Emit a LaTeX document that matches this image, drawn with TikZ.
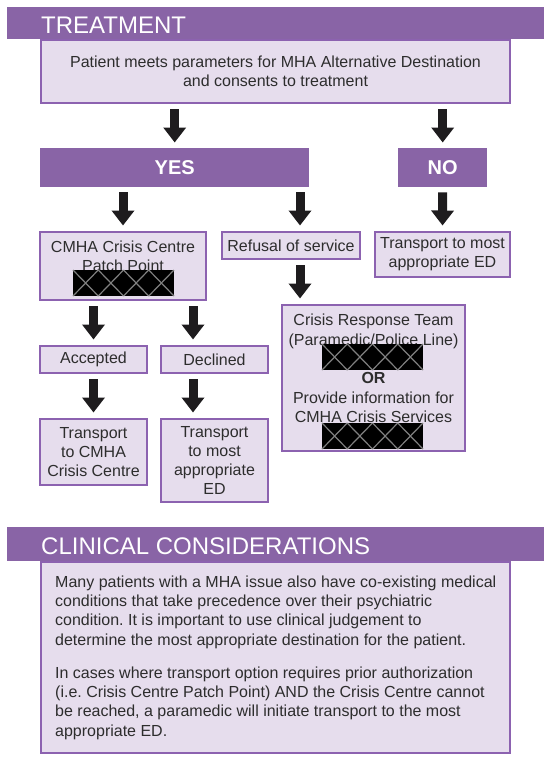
\documentclass[tikz,border=0pt]{standalone}
\usepackage{fontspec}
\setmainfont{Liberation Sans}
\usetikzlibrary{arrows.meta}
\definecolor{bandpurple}{RGB}{137,100,166}
\definecolor{cardfill}{RGB}{230,221,237}
\definecolor{cardline}{RGB}{140,98,176}
\definecolor{ink}{RGB}{45,45,45}
\definecolor{arrowink}{RGB}{30,28,30}
\newcommand{\cardfont}{\fontsize{16}{19.3}\selectfont\frenchspacing}

\begin{document}
\begin{tikzpicture}[x=1pt, y=-1pt,
    card/.style={draw=cardline, fill=cardfill, line width=2pt, anchor=north west, inner sep=0pt, align=center, text=ink, font=\cardfont},
    band/.style={fill=bandpurple, anchor=north west, inner sep=0pt},
    choice/.style={fill=bandpurple, anchor=north west, inner sep=0pt, text=white, font=\fontsize{20}{24}\selectfont\bfseries},
    heading/.style={text=white, anchor=base west, inner sep=0pt, font=\fontsize{24}{28}\selectfont},
    downarrow/.style={draw=arrowink, line width=9pt, -{Triangle[width=22pt,length=15pt]}, shorten <=5pt, shorten >=5.5pt}]
  \useasboundingbox (0,0) rectangle (550,763);

  \node[card, minimum width=469pt, minimum height=63pt] (top) at (40,39) {Patient meets parameters for MHA Alternative Destination\\and consents to treatment};
  \node[band, minimum width=537pt, minimum height=32pt] (treatband) at (7,7) {};
  \node[heading] (treattitle) at (41,33) {TREATMENT};

  \node[choice, minimum width=269pt, minimum height=39pt] (yes) at (40,148) {YES};
  \node[choice, minimum width=89pt, minimum height=39pt] (no) at (398,148) {NO};

  \node[card, minimum width=166pt, minimum height=68pt] (cmha) at (39,231) {CMHA Crisis Centre\\Patch Point\\\vphantom{X}};
  \node[card, minimum width=138pt, minimum height=27pt] (refusal) at (221,231) {Refusal of service};
  \node[card, minimum width=135pt, minimum height=45pt] (tred) at (374,231) {Transport to most\\appropriate ED};
  \node[card, minimum width=183pt, minimum height=146pt] (crisis) at (281,304) {Crisis Response Team\\(Paramedic/Police Line)\\\vphantom{X}\\\textbf{OR}\\Provide information for\\CMHA Crisis Services\\\vphantom{X}};
  \node[card, minimum width=107pt, minimum height=27pt] (accepted) at (39,345) {Accepted};
  \node[card, minimum width=107pt, minimum height=27pt] (declined) at (160,345) {Declined};
  \node[card, minimum width=107pt, minimum height=66pt] (tcmha) at (39,418) {Transport\\to CMHA\\Crisis Centre};
  \node[card, minimum width=107pt, minimum height=83pt] (ted) at (160,418) {Transport\\to most\\appropriate\\ED};

  \coordinate (rcol) at (300,0);
  \coordinate (dcol) at (193,0);
  \draw[downarrow] (top.south -| yes.north) -- (yes.north);
  \draw[downarrow] (top.south -| no.north) -- (no.north);
  \draw[downarrow] (yes.south -| cmha.north) -- (cmha.north);
  \draw[downarrow] (yes.south -| rcol) -- (refusal.north -| rcol);
  \draw[downarrow] (no.south) -- (tred.north);
  \draw[downarrow] (refusal.south -| rcol) -- (crisis.north -| rcol);
  \draw[downarrow] (cmha.south -| accepted.north) -- (accepted.north);
  \draw[downarrow] (cmha.south -| dcol) -- (declined.north -| dcol);
  \draw[downarrow] (accepted.south) -- (tcmha.north);
  \draw[downarrow] (declined.south -| dcol) -- (ted.north -| dcol);

  % blacked-out numbers
  \foreach \x/\y in {73/270, 322/344, 322/423} {
    \fill[black] (\x,\y) rectangle ++(101,26);
    \foreach \i in {0,...,3}
      \draw[gray, line width=1.2pt] (\x+\i*25.25,\y) -- ++(25.25,26) ++(-25.25,0) -- ++(25.25,-26);
  }

  \node[card, minimum width=469pt, minimum height=191pt] (clinbox) at (40,561) {};
  \node[band, minimum width=537pt, minimum height=34pt] (clinband) at (7,527) {};
  \node[heading] (clintitle) at (41,554) {CLINICAL CONSIDERATIONS};
  \node[anchor=north west, inner sep=0pt, align=left, text=ink, font=\cardfont] (clintext) at (55,575.3) {Many patients with a MHA issue also have co-existing medical\\conditions that take precedence over their psychiatric\\condition. It is important to use clinical judgement to\\determine the most appropriate destination for the patient.\\[14pt]In cases where transport option requires prior authorization\\(i.e. Crisis Centre Patch Point) AND the Crisis Centre cannot\\be reached, a paramedic will initiate transport to the most\\appropriate ED.};
\end{tikzpicture}
\end{document}
